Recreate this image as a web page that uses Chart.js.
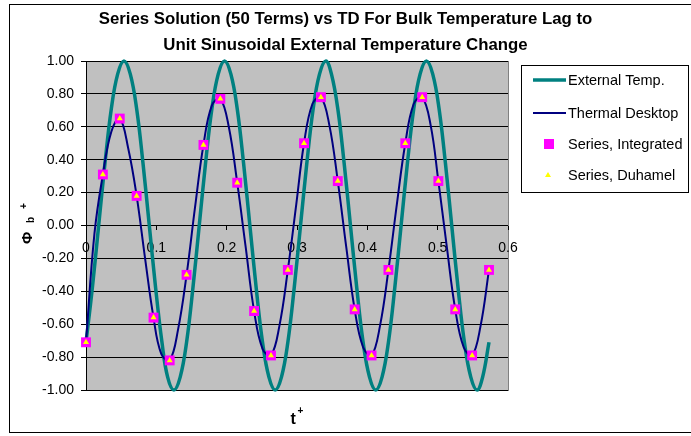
<!DOCTYPE html>
<html lang="en">
<head>
<meta charset="UTF-8" />
<title>Series Solution vs TD</title>
<script src="https://cdn.jsdelivr.net/npm/chart.js"></script>
<style>
  body { margin: 0; background: #fff; }
  #wrap { width: 691px; height: 436px; position: relative; }
</style>
</head>
<body>
<div id="wrap"><canvas id="chart" width="691" height="436"></canvas></div>
<script>
const FONT = '"Liberation Sans", Arial, sans-serif';

const titleLines = [
  "Series Solution (50 Terms) vs TD For Bulk Temperature Lag to",
  "Unit Sinusoidal External Temperature Change"
];
const seriesNames = ["External Temp.", "Thermal Desktop", "Series, Integrated", "Series, Duhamel"];

// external temperature
const extTime = [
  0.000, 0.009, 0.018, 0.027, 0.036, 0.045, 0.054, 0.063, 0.072, 0.081, 0.090, 0.099, 0.108, 0.116, 0.125, 0.134,
  0.143, 0.152, 0.161, 0.170, 0.179, 0.188, 0.197, 0.206, 0.215, 0.224, 0.233, 0.242, 0.251, 0.260, 0.269, 0.278,
  0.287, 0.296, 0.305, 0.314, 0.323, 0.332, 0.341, 0.349, 0.358, 0.367, 0.376, 0.385, 0.394, 0.403, 0.412, 0.421,
  0.430, 0.439, 0.448, 0.457, 0.466, 0.475, 0.484, 0.493, 0.502, 0.511, 0.520, 0.529, 0.538, 0.547, 0.556, 0.564,
  0.573
];
const extValue = [
  -0.71, -0.38, 0.00, 0.38, 0.71, 0.92, 1.00, 0.92, 0.71, 0.38, 0.00, -0.38, -0.71, -0.92, -1.00, -0.92,
  -0.71, -0.38, 0.00, 0.38, 0.71, 0.92, 1.00, 0.92, 0.71, 0.38, 0.00, -0.38, -0.71, -0.92, -1.00, -0.92,
  -0.71, -0.38, 0.00, 0.38, 0.71, 0.92, 1.00, 0.92, 0.71, 0.38, 0.00, -0.38, -0.71, -0.92, -1.00, -0.92,
  -0.71, -0.38, 0.00, 0.38, 0.71, 0.92, 1.00, 0.92, 0.71, 0.38, 0.00, -0.38, -0.71, -0.92, -1.00, -0.92,
  -0.71
];

// Thermal Desktop curve (navy)
const tdTime = [
  0.000, 0.012, 0.024, 0.036, 0.048, 0.060, 0.072, 0.084, 0.096, 0.107, 0.119, 0.131, 0.143,
  0.155, 0.167, 0.179, 0.191, 0.203, 0.215, 0.227, 0.239, 0.251, 0.263, 0.275, 0.287,
  0.299, 0.310, 0.322, 0.334, 0.346, 0.358, 0.370, 0.382, 0.394, 0.406, 0.418, 0.430,
  0.442, 0.454, 0.466, 0.478, 0.490, 0.501, 0.513, 0.525, 0.537, 0.549, 0.561, 0.573
];
const tdValue = [
  -0.71, -0.05, 0.31, 0.57, 0.65, 0.47, 0.18, -0.20, -0.56, -0.78, -0.82, -0.63, -0.30,
  0.11, 0.49, 0.73, 0.77, 0.60, 0.26, -0.13, -0.52, -0.75, -0.79, -0.61, -0.27,
  0.13, 0.50, 0.74, 0.78, 0.61, 0.27, -0.13, -0.51, -0.74, -0.79, -0.61, -0.27,
  0.13, 0.50, 0.74, 0.78, 0.61, 0.27, -0.13, -0.51, -0.74, -0.79, -0.61, -0.27
];

// series solution markers
const seriesTime = [
  0.000, 0.024, 0.048, 0.072, 0.096, 0.119, 0.143, 0.167, 0.191, 0.215, 0.239, 0.263, 0.287,
  0.310, 0.334, 0.358, 0.382, 0.406, 0.430, 0.454, 0.478, 0.501, 0.525, 0.549, 0.573
];
const integratedValue = [
  -0.71, 0.31, 0.65, 0.18, -0.56, -0.82, -0.30, 0.49, 0.77, 0.26, -0.52, -0.79, -0.27,
  0.50, 0.78, 0.27, -0.51, -0.79, -0.27, 0.50, 0.78, 0.27, -0.51, -0.79, -0.27
];
const duhamelValue = [
  -0.71, 0.31, 0.65, 0.18, -0.56, -0.82, -0.30, 0.49, 0.77, 0.26, -0.52, -0.79, -0.27,
  0.50, 0.78, 0.27, -0.51, -0.79, -0.27, 0.50, 0.78, 0.27, -0.51, -0.79, -0.27
];

const toPoints = (xs, ys) => xs.map((x, i) => ({ x: x, y: ys[i] }));

// grey plot area + outer frame
const plotBg = {
  id: 'plotBg',
  beforeDraw(chart) {
    const { ctx, chartArea: a } = chart;
    ctx.save();
    ctx.strokeStyle = '#000';
    ctx.lineWidth = 1;
    ctx.strokeRect(9.5, 4.5, 700, 428);
    ctx.fillStyle = '#c0c0c0';
    ctx.fillRect(a.left, a.top, a.right - a.left, a.bottom - a.top);
    ctx.strokeStyle = '#808080';
    ctx.strokeRect(a.left + 0.5, a.top + 0.5, a.right - a.left, a.bottom - a.top);
    ctx.restore();
  }
};

// title centred on the whole picture, t+ and Phi_b+ axis titles
const chartTexts = {
  id: 'chartTexts',
  afterDraw(chart) {
    const ctx = chart.ctx;
    ctx.save();
    ctx.fillStyle = '#000';
    ctx.textAlign = 'center';
    ctx.textBaseline = 'middle';
    ctx.font = 'bold 16.8px ' + FONT;
    ctx.fillText(titleLines[0], 345.5, 19);
    ctx.fillText(titleLines[1], 345.5, 45);

    ctx.textAlign = 'left';
    ctx.textBaseline = 'alphabetic';
    ctx.font = 'bold 16px ' + FONT;
    ctx.fillText('t', 290.5, 423.5);
    ctx.font = 'bold 10px ' + FONT;
    ctx.fillText('+', 297.5, 414);

    ctx.translate(32, 244);
    ctx.rotate(-Math.PI / 2);
    ctx.font = 'bold 15px ' + FONT;
    ctx.fillText('\u03A6', 0, 0);
    ctx.font = 'bold 10px ' + FONT;
    ctx.fillText('b', 21, 1.5);
    ctx.fillText('+', 35, -5);
    ctx.restore();
  }
};

// boxed legend on the right
const boxLegend = {
  id: 'boxLegend',
  afterDraw(chart) {
    const ctx = chart.ctx;
    const rows = [80, 113, 144, 175];
    ctx.save();
    ctx.fillStyle = '#fff';
    ctx.fillRect(521.5, 65.5, 167, 127);
    ctx.strokeStyle = '#000';
    ctx.lineWidth = 1;
    ctx.strokeRect(521.5, 65.5, 167, 127);
    chart.data.datasets.forEach((ds, i) => {
      const y = rows[i];
      if (ds.showLine !== false) {
        ctx.strokeStyle = ds.borderColor;
        ctx.lineWidth = ds.borderWidth;
        ctx.beginPath();
        ctx.moveTo(533, y);
        ctx.lineTo(566, y);
        ctx.stroke();
      } else if (ds.pointStyle === 'rect') {
        ctx.fillStyle = ds.backgroundColor;
        ctx.fillRect(544, y - 5, 10, 10);
      } else {
        ctx.fillStyle = ds.backgroundColor;
        ctx.beginPath();
        ctx.moveTo(548, y - 3);
        ctx.lineTo(551, y + 2);
        ctx.lineTo(545, y + 2);
        ctx.closePath();
        ctx.fill();
      }
      ctx.fillStyle = '#000';
      ctx.font = '14.5px ' + FONT;
      ctx.textBaseline = 'middle';
      ctx.fillText(ds.label, 568, y + 1);
    });
    ctx.restore();
  }
};

new Chart(document.getElementById('chart'), {
  type: 'line',
  data: {
    datasets: [
      {
        label: seriesNames[0],
        data: toPoints(extTime, extValue),
        borderColor: '#008080',
        borderWidth: 3.5,
        pointRadius: 0,
        tension: 0.4,
        clip: false,
        order: 3
      },
      {
        label: seriesNames[1],
        data: toPoints(tdTime, tdValue),
        borderColor: '#000080',
        borderWidth: 2,
        pointRadius: 0,
        tension: 0.4,
        clip: false,
        order: 2
      },
      {
        label: seriesNames[2],
        data: toPoints(seriesTime, integratedValue),
        showLine: false,
        pointStyle: 'rect',
        pointRadius: 7,
        pointBorderWidth: 0,
        backgroundColor: '#ff00ff',
        borderColor: '#ff00ff',
        clip: false,
        order: 1
      },
      {
        label: seriesNames[3],
        data: toPoints(seriesTime, duhamelValue),
        showLine: false,
        pointStyle: 'triangle',
        pointRadius: 3.5,
        pointBorderWidth: 0,
        backgroundColor: '#ffff00',
        borderColor: '#ffff00',
        clip: false,
        order: 0
      }
    ]
  },
  options: {
    responsive: false,
    devicePixelRatio: 1,
    animation: false,
    layout: { padding: { left: 0, right: 183, top: 61, bottom: 46 } },
    plugins: {
      legend: { display: false },
      tooltip: { enabled: false },
      title: { display: false }
    },
    scales: {
      x: {
        type: 'linear',
        min: 0,
        max: 0.6,
        position: { y: 0 },
        ticks: { stepSize: 0.1, color: '#000', font: { family: FONT, size: 14 }, padding: 10, maxRotation: 0 },
        grid: { display: true, drawOnChartArea: false, drawTicks: true, tickLength: 4, color: '#000' },
        border: { display: false }
      },
      y: {
        type: 'linear',
        min: -1,
        max: 1,
        afterFit(scale) { scale.width = 86; },
        ticks: {
          stepSize: 0.2,
          color: '#000',
          font: { family: FONT, size: 14 },
          padding: 7,
          callback: v => (Math.abs(v) < 1e-9 ? 0 : v).toFixed(2)
        },
        grid: { color: '#000', tickLength: 5 },
        border: { color: '#000' }
      }
    }
  },
  plugins: [plotBg, chartTexts, boxLegend]
});
</script>
</body>
</html>
